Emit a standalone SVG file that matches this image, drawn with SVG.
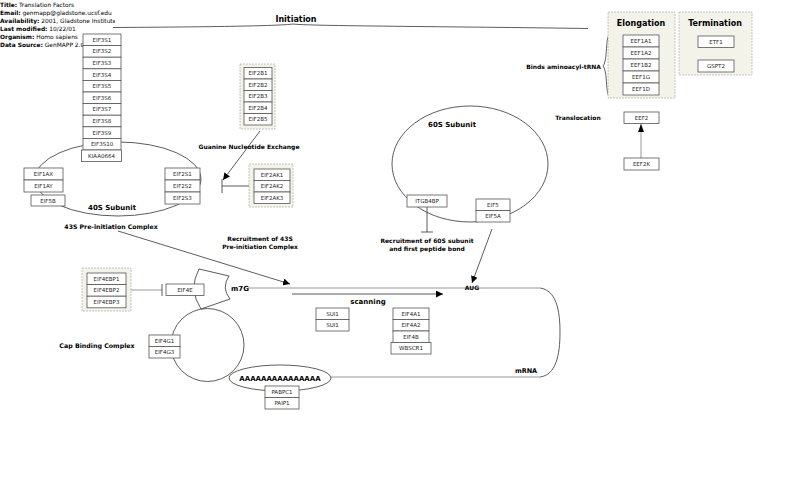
<svg xmlns="http://www.w3.org/2000/svg" width="800" height="491" viewBox="0 0 800 491">
<style>
text{font-family:"DejaVu Sans","Liberation Sans",sans-serif;fill:#000}
.hd{font-size:5.9px}
.hb{font-weight:bold}
.bx rect{fill:#fff;stroke:#555;stroke-width:0.8}
.bx text{font-size:5.5px;text-anchor:middle;fill:#222}
.pn{fill:#f3f3ea;stroke:#b8b8b0;stroke-width:0.8;stroke-dasharray:2 1}
.lb{font-weight:bold;font-size:6px;text-anchor:middle}
.ti{font-weight:bold;font-size:8px;text-anchor:middle}
.ln{fill:none;stroke:#333;stroke-width:0.8}
.gl{fill:none;stroke:#999;stroke-width:1}
</style>
<defs>
<marker id="ah" viewBox="0 0 10 10" refX="10" refY="5" markerWidth="7" markerHeight="7" markerUnits="userSpaceOnUse" orient="auto"><path d="M0,0 L10,5 L0,10 Z" fill="#000"/></marker>
<clipPath id="hc"><rect x="0" y="0" width="115" height="60"/></clipPath>
</defs>

<g id="header" clip-path="url(#hc)">
<text class="hd" x="0" y="7"><tspan class="hb">Title:</tspan>  Translation Factors</text>
<text class="hd" x="0" y="15"><tspan class="hb">Email:</tspan>  genmapp@gladstone.ucsf.edu</text>
<text class="hd" x="0" y="23"><tspan class="hb">Availability:</tspan>  2001, Gladstone Institute</text>
<text class="hd" x="0" y="31"><tspan class="hb">Last modified:</tspan>  10/22/01</text>
<text class="hd" x="0" y="39"><tspan class="hb">Organism:</tspan>  Homo sapiens</text>
<text class="hd" x="0" y="47"><tspan class="hb">Data Source:</tspan>  GenMAPP 2.0</text>
</g>

<g id="connectors">
<path class="ln" d="M113,27.5 C200,27 280,26 293,24 C306,26 450,26.5 588,28.5"/>
<path class="ln" d="M610,34 C605,36 608,60 603,66 C608,72 605,95 610,97"/>
<ellipse class="ln" cx="118" cy="179" rx="83" ry="37"/>
<ellipse class="ln" cx="470" cy="164" rx="78" ry="58"/>
<circle class="ln" cx="207.5" cy="345" r="36.5"/>
<path class="ln" d="M199,269 L229,276 Q221,288 230,299 L201,309 Q188,289 199,269 Z" fill="#fff"/>
<ellipse class="ln" cx="280" cy="378" rx="51" ry="13" fill="#fff"/>
<path class="gl" d="M248,288 L540,288"/>
<path class="ln" d="M540,288 C556,290 560,310 560,332 C560,355 556,375 540,377"/>
<path class="gl" d="M331,377 L540,377"/>
<path class="ln" d="M292,294 L443,294" marker-end="url(#ah)"/>
<path class="ln" d="M118,231 L290,284" marker-end="url(#ah)"/>
<path class="ln" d="M260,131 L223,180" marker-end="url(#ah)"/>
<path class="ln" d="M249,186 L222,186 M222,179 L222,193"/>
<path class="gl" d="M131,290 L162,290"/>
<path class="ln" d="M162,284 L162,296"/>
<path class="ln" d="M427,207 L427,232 M421,232 L433,232"/>
<path class="ln" d="M492,229 L472,283" marker-end="url(#ah)"/>
<path class="gl" d="M641,158 L641,124"/>
<path d="M641,124 L638,132 L644,132 Z" fill="#000"/>
</g>

<g id="labels">
<text class="ti" x="296" y="22">Initiation</text>
<text class="lb" x="601" y="69" style="text-anchor:end">Binds aminoacyl-tRNA</text>
<text class="lb" x="578" y="120">Translocation</text>
<text class="lb" x="249" y="149">Guanine Nucleotide Exchange</text>
<text class="lb" x="112" y="210" style="font-size:7px">40S Subunit</text>
<text class="lb" x="111" y="229" style="font-size:6.2px">43S Pre-initiation Complex</text>
<text class="lb" x="452" y="127" style="font-size:7px">60S Subunit</text>
<text class="lb" x="427" y="243">Recruitment of 60S subunit</text>
<text class="lb" x="427" y="251">and first peptide bond</text>
<text class="lb" x="260" y="241">Recruitment of 43S</text>
<text class="lb" x="260" y="249">Pre-initiation Complex</text>
<text class="lb" x="240" y="291" style="font-size:7px">m7G</text>
<text class="lb" x="472" y="290">AUG</text>
<text class="lb" x="368" y="304" style="font-size:7px">scanning</text>
<text class="lb" x="97" y="348" style="font-size:6.3px">Cap Binding Complex</text>
<text class="lb" x="280" y="381" style="font-size:7px">AAAAAAAAAAAAAAA</text>
<text class="lb" x="526" y="373" style="font-size:6.5px">mRNA</text>
</g>

<g id="elongation">
<rect class="pn" x="608" y="12" width="67" height="86"/>
<text class="ti" x="641" y="26">Elongation</text>
</g>
<g id="termination">
<rect class="pn" x="679" y="12" width="73" height="63"/>
<text class="ti" x="715" y="26">Termination</text>
</g>
<g id="eif2b-panel"><rect class="pn" x="240" y="64" width="35" height="65"/></g>
<g id="eif2ak-panel"><rect class="pn" x="249" y="164" width="44" height="43"/></g>
<g id="eif4ebp-panel"><rect class="pn" x="82" y="268" width="49" height="43"/></g>

<g id="EIF3S1" class="bx"><rect x="83" y="34" width="38" height="11.6"/><text x="102" y="41.8">EIF3S1</text></g>
<g id="EIF3S2" class="bx"><rect x="83" y="45.6" width="38" height="11.6"/><text x="102" y="53.4">EIF3S2</text></g>
<g id="EIF3S3" class="bx"><rect x="83" y="57.2" width="38" height="11.6"/><text x="102" y="65">EIF3S3</text></g>
<g id="EIF3S4" class="bx"><rect x="83" y="68.8" width="38" height="11.6"/><text x="102" y="76.6">EIF3S4</text></g>
<g id="EIF3S5" class="bx"><rect x="83" y="80.4" width="38" height="11.6"/><text x="102" y="88.2">EIF3S5</text></g>
<g id="EIF3S6" class="bx"><rect x="83" y="92" width="38" height="11.6"/><text x="102" y="99.8">EIF3S6</text></g>
<g id="EIF3S7" class="bx"><rect x="83" y="103.6" width="38" height="11.6"/><text x="102" y="111.4">EIF3S7</text></g>
<g id="EIF3S8" class="bx"><rect x="83" y="115.2" width="38" height="11.6"/><text x="102" y="123">EIF3S8</text></g>
<g id="EIF3S9" class="bx"><rect x="83" y="126.8" width="38" height="11.6"/><text x="102" y="134.6">EIF3S9</text></g>
<g id="EIF3S10" class="bx"><rect x="83" y="138.4" width="38" height="11.6"/><text x="102" y="146.2">EIF3S10</text></g>
<g id="KIAA0664" class="bx"><rect x="81.5" y="150" width="40" height="11.6"/><text x="101.5" y="157.8">KIAA0664</text></g>

<g id="EIF1AX" class="bx"><rect x="24" y="168" width="39" height="12"/><text x="43.5" y="176">EIF1AX</text></g>
<g id="EIF1AY" class="bx"><rect x="24" y="180" width="39" height="12"/><text x="43.5" y="188">EIF1AY</text></g>
<g id="EIF5B" class="bx"><rect x="31" y="195" width="34" height="11"/><text x="48" y="202.6">EIF5B</text></g>
<g id="EIF2S1" class="bx"><rect x="165" y="168" width="35" height="12"/><text x="182.5" y="176">EIF2S1</text></g>
<g id="EIF2S2" class="bx"><rect x="165" y="180" width="35" height="12"/><text x="182.5" y="188">EIF2S2</text></g>
<g id="EIF2S3" class="bx"><rect x="165" y="192" width="35" height="12"/><text x="182.5" y="200">EIF2S3</text></g>

<g id="EIF2B1" class="bx"><rect x="244" y="67.5" width="28" height="11.5"/><text x="258" y="75.3">EIF2B1</text></g>
<g id="EIF2B2" class="bx"><rect x="244" y="79" width="28" height="11.5"/><text x="258" y="86.8">EIF2B2</text></g>
<g id="EIF2B3" class="bx"><rect x="244" y="90.5" width="28" height="11.5"/><text x="258" y="98.3">EIF2B3</text></g>
<g id="EIF2B4" class="bx"><rect x="244" y="102" width="28" height="11.5"/><text x="258" y="109.8">EIF2B4</text></g>
<g id="EIF2B5" class="bx"><rect x="244" y="113.5" width="28" height="11.5"/><text x="258" y="121.3">EIF2B5</text></g>

<g id="EIF2AK1" class="bx"><rect x="254" y="169" width="36" height="11.5"/><text x="272" y="176.8">EIF2AK1</text></g>
<g id="EIF2AK2" class="bx"><rect x="254" y="180.5" width="36" height="11.5"/><text x="272" y="188.3">EIF2AK2</text></g>
<g id="EIF2AK3" class="bx"><rect x="254" y="192" width="36" height="11.5"/><text x="272" y="199.8">EIF2AK3</text></g>

<g id="EEF1A1" class="bx"><rect x="623" y="35" width="36" height="12"/><text x="641" y="43">EEF1A1</text></g>
<g id="EEF1A2" class="bx"><rect x="623" y="47" width="36" height="12"/><text x="641" y="55">EEF1A2</text></g>
<g id="EEF1B2" class="bx"><rect x="623" y="59" width="36" height="12"/><text x="641" y="67">EEF1B2</text></g>
<g id="EEF1G" class="bx"><rect x="623" y="71" width="36" height="12"/><text x="641" y="79">EEF1G</text></g>
<g id="EEF1D" class="bx"><rect x="623" y="83" width="36" height="12"/><text x="641" y="91">EEF1D</text></g>
<g id="ETF1" class="bx"><rect x="698" y="36" width="36" height="11.5"/><text x="716" y="43.8">ETF1</text></g>
<g id="GSPT2" class="bx"><rect x="698" y="60" width="36" height="12"/><text x="716" y="68">GSPT2</text></g>
<g id="EEF2" class="bx"><rect x="624" y="112" width="35" height="11.5"/><text x="641.5" y="119.8">EEF2</text></g>
<g id="EEF2K" class="bx"><rect x="624" y="158" width="35" height="12"/><text x="641.5" y="166">EEF2K</text></g>

<g id="ITGB4BP" class="bx"><rect x="407" y="195" width="40" height="12"/><text x="427" y="203">ITGB4BP</text></g>
<g id="EIF5" class="bx"><rect x="476" y="199" width="34" height="11.5"/><text x="493" y="206.8">EIF5</text></g>
<g id="EIF5A" class="bx"><rect x="476" y="210.5" width="34" height="11.5"/><text x="493" y="218.3">EIF5A</text></g>

<g id="EIF4EBP1" class="bx"><rect x="87" y="273" width="39" height="11.6"/><text x="106.5" y="280.8">EIF4EBP1</text></g>
<g id="EIF4EBP2" class="bx"><rect x="87" y="284.6" width="39" height="11.6"/><text x="106.5" y="292.4">EIF4EBP2</text></g>
<g id="EIF4EBP3" class="bx"><rect x="87" y="296.2" width="39" height="11.6"/><text x="106.5" y="304">EIF4EBP3</text></g>
<g id="EIF4E" class="bx"><rect x="166" y="284" width="38" height="11.5"/><text x="185" y="291.8">EIF4E</text></g>
<g id="EIF4G1" class="bx"><rect x="149" y="335" width="31" height="11.5"/><text x="164.5" y="342.8">EIF4G1</text></g>
<g id="EIF4G3" class="bx"><rect x="149" y="346.5" width="31" height="11.5"/><text x="164.5" y="354.3">EIF4G3</text></g>

<g id="SUI1a" class="bx"><rect x="316" y="308" width="33" height="11.5"/><text x="332.5" y="315.8">SUI1</text></g>
<g id="SUI1b" class="bx"><rect x="316" y="319.5" width="33" height="11.5"/><text x="332.5" y="327.3">SUI1</text></g>
<g id="EIF4A1" class="bx"><rect x="393" y="308" width="36" height="11.5"/><text x="411" y="315.8">EIF4A1</text></g>
<g id="EIF4A2" class="bx"><rect x="393" y="319.5" width="36" height="11.5"/><text x="411" y="327.3">EIF4A2</text></g>
<g id="EIF4B" class="bx"><rect x="393" y="331" width="36" height="11.5"/><text x="411" y="338.8">EIF4B</text></g>
<g id="WBSCR1" class="bx"><rect x="391" y="342.5" width="40" height="11.5"/><text x="411" y="350.3">WBSCR1</text></g>

<g id="PABPC1" class="bx"><rect x="265" y="386" width="34" height="11.5"/><text x="282" y="393.8">PABPC1</text></g>
<g id="PAIP1" class="bx"><rect x="265" y="397.5" width="34" height="11.5"/><text x="282" y="405.3">PAIP1</text></g>
</svg>
